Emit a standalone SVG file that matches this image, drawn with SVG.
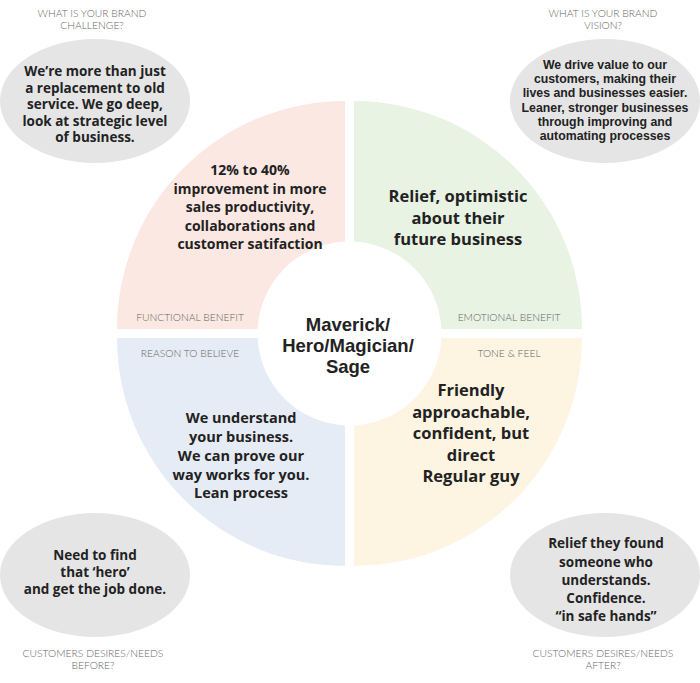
<svg xmlns="http://www.w3.org/2000/svg" width="700" height="683" viewBox="0 0 700 683">
<style>
.lbl{font-family:Lato,"Liberation Sans",sans-serif;font-size:10.3px;fill:#666;text-anchor:middle;font-weight:300}
.bt{font-family:"Open Sans","Liberation Sans",sans-serif;font-weight:700;fill:#222;text-anchor:middle}
.bt2{font-family:"Liberation Sans",Arial,sans-serif;font-weight:700;fill:#222;text-anchor:middle}
.ell{fill:#e5e5e6}
</style>
<rect width="700" height="683" fill="#fff"/>
<g id="quadrants">
<g id="functional-benefit">
<path d="M257.6,329 L117,329 A228,228 0 0 1 345,101 L345,241.6 A92,92 0 0 0 257.6,329 Z" fill="#fce8e2"/>
<text class="bt" font-size="14"><tspan x="250" y="175">12% to 40%</tspan><tspan x="250" y="193.5">improvement in more</tspan><tspan x="250" y="212">sales productivity,</tspan><tspan x="250" y="230.5">collaborations and</tspan><tspan x="250" y="249">customer satifaction</tspan></text>
<text class="lbl" x="190" y="321">FUNCTIONAL BENEFIT</text>
</g>
<g id="emotional-benefit">
<path d="M354,241.6 L354,101 A228,228 0 0 1 582,329 L441.4,329 A92,92 0 0 0 354,241.6 Z" fill="#e8f3e4"/>
<text class="bt" font-size="16.5"><tspan x="458" y="202">Relief, optimistic</tspan><tspan x="458" y="223.5">about their</tspan><tspan x="458" y="245">future business</tspan></text>
<text class="lbl" x="509" y="321">EMOTIONAL BENEFIT</text>
</g>
<g id="reason-to-believe">
<path d="M345,425.4 L345,566 A228,228 0 0 1 117,338 L257.6,338 A92,92 0 0 0 345,425.4 Z" fill="#e6ecf5"/>
<text class="bt" font-size="14.5"><tspan x="241" y="423">We understand</tspan><tspan x="241" y="442">your business.</tspan><tspan x="241" y="461">We can prove our</tspan><tspan x="241" y="479.5">way works for you.</tspan><tspan x="241" y="498">Lean process</tspan></text>
<text class="lbl" x="190" y="357">REASON TO BELIEVE</text>
</g>
<g id="tone-feel">
<path d="M441.4,338 L582,338 A228,228 0 0 1 354,566 L354,425.4 A92,92 0 0 0 441.4,338 Z" fill="#fdf5e2"/>
<text class="bt" font-size="16.5"><tspan x="471" y="396">Friendly</tspan><tspan x="471" y="417.5">approachable,</tspan><tspan x="471" y="439">confident, but</tspan><tspan x="471" y="460.5">direct</tspan><tspan x="471" y="482">Regular guy</tspan></text>
<text class="lbl" x="509" y="357">TONE &amp; FEEL</text>
</g>
</g>
<g id="center">
<text class="bt2" font-size="18.5"><tspan x="348" y="331">Maverick/</tspan><tspan x="348" y="352">Hero/Magician/</tspan><tspan x="348" y="373">Sage</tspan></text>
</g>
<g id="brand-challenge">
<ellipse class="ell" cx="95" cy="101" rx="95" ry="62"/>
<text class="bt" font-size="13.5"><tspan x="95" y="76">We’re more than just</tspan><tspan x="95" y="92.5">a replacement to old</tspan><tspan x="95" y="109">service. We go deep,</tspan><tspan x="95" y="125.5">look at strategic level</tspan><tspan x="95" y="142">of business.</tspan></text>
<text class="lbl"><tspan x="92" y="17">WHAT IS YOUR BRAND</tspan><tspan x="92" y="29">CHALLENGE?</tspan></text>
</g>
<g id="brand-vision">
<ellipse class="ell" cx="605" cy="101" rx="95" ry="62"/>
<text class="bt2" font-size="12.3"><tspan x="605" y="69">We drive value to our</tspan><tspan x="605" y="83.2">customers, making their</tspan><tspan x="605" y="97.4">lives and businesses easier.</tspan><tspan x="605" y="111.6">Leaner, stronger businesses</tspan><tspan x="605" y="125.8">through improving and</tspan><tspan x="605" y="140">automating processes</tspan></text>
<text class="lbl"><tspan x="603" y="17">WHAT IS YOUR  BRAND</tspan><tspan x="603" y="29">VISION?</tspan></text>
</g>
<g id="needs-before">
<ellipse class="ell" cx="95" cy="575" rx="95" ry="62"/>
<text class="bt" font-size="13.5"><tspan x="95" y="560">Need to find</tspan><tspan x="95" y="577">that ‘hero’</tspan><tspan x="95" y="594">and get the job done.</tspan></text>
<text class="lbl"><tspan x="93" y="657">CUSTOMERS DESIRES/NEEDS</tspan><tspan x="93" y="669">BEFORE?</tspan></text>
</g>
<g id="needs-after">
<ellipse class="ell" cx="605" cy="575" rx="95" ry="62"/>
<text class="bt" font-size="13.5"><tspan x="606" y="548">Relief they found</tspan><tspan x="606" y="566.5">someone who</tspan><tspan x="606" y="585">understands.</tspan><tspan x="606" y="603">Confidence.</tspan><tspan x="606" y="621">“in safe hands”</tspan></text>
<text class="lbl"><tspan x="603" y="657">CUSTOMERS DESIRES/NEEDS</tspan><tspan x="603" y="669">AFTER?</tspan></text>
</g>
<g id="connectors"></g>
</svg>
